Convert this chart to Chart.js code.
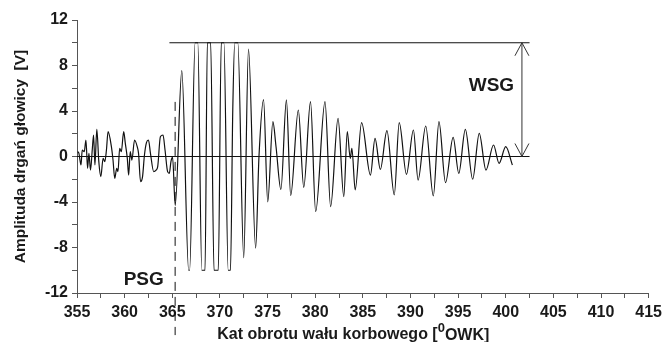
<!DOCTYPE html>
<html>
<head>
<meta charset="utf-8">
<script src="https://cdn.jsdelivr.net/npm/chart.js@4.4.1/dist/chart.umd.min.js"></script>
<style>
  html, body { margin: 0; padding: 0; background: #fff; }
  #wrap { width: 667px; height: 342px; }
</style>
</head>
<body>
<div id="wrap"><canvas id="chart" width="667" height="342"></canvas></div>
<script>
// axis ranges
const xMin = 355, xMax = 415, xStep = 2.5, xLabelEvery = 5;
const yMin = -12, yMax = 12, yStep = 2, yLabelEvery = 4;

// signal before ignition (noise), crank angle [deg] / amplitude [V]
const angleBefore = [355.07, 355.2, 355.42, 355.55, 355.76, 355.94, 356.11, 356.25, 356.42, 356.6,
  356.74, 356.88, 357.08, 357.29, 357.5, 357.74, 357.92, 358.09, 358.26, 358.61,
  358.78, 358.96, 359.17, 359.3, 359.48, 359.65, 359.9, 360.07, 360.28, 360.42,
  360.59, 360.76, 361.04, 361.32, 361.46, 361.67, 361.88, 362.08, 362.29, 362.5,
  362.71, 363.05, 363.3, 363.47, 363.75, 364.03, 364.24, 364.51, 364.69, 364.86, 365.03];
const ampBefore = [0.42, 0.28, -0.74, 0.57, 0.42, 1.45, -1.04, 0.28, -1.19, 0.57,
  1.89, -0.74, 2.39, -0.45, -1.77, -0.16, -0.45, 0.57, 2.18, 0.87,
  -0.31, -1.92, -1.04, -1.33, 0.72, 0.42, 2.18, 1.16, -0.16, -1.63,
  0.42, -0.31, 1.45, 0.87, 0.28, -2.21, -1.77, 0.13, 1.22, 1.45,
  0.28, -1.33, -1.19, -0.89, 1.74, 1.89, 0.57, -1.33, -1.48, -0.45, -0.05];

// signal after ignition (knock oscillations, clipped at +/-10 V)
const angleAfter = [365.31, 366.0, 366.72, 366.82, 367.4, 367.68, 368.1, 368.44, 368.68, 369.03,
  369.38, 369.83, 370.14, 370.42, 370.87, 371.11, 371.35, 371.56, 371.88, 372.5,
  373.0, 373.75, 374.1, 374.58, 375.02, 375.56, 375.89, 376.4, 376.98, 377.43,
  378.23, 378.8, 379.51, 380.05, 381.03, 381.62, 382.4, 383.0, 383.37, 383.68,
  383.85, 384.2, 384.87, 385.8, 386.28, 386.84, 387.53, 388.3, 388.82, 389.58,
  390.31, 390.8, 391.6, 392.4, 392.99, 393.68, 394.48, 395.07, 395.76, 396.53,
  397.22, 397.92, 398.72, 399.3, 400.0, 400.7];
const ampAfter = [-4.3, 7.55, -10, -10, 10, 10, -10, -10, 10, 10,
  -10, -10, 10, 10, -10, -10, 4.1, 10, 10, -8.9,
  9.45, -8.05, 0, 5.0, -4.0, 3.06, 0.86, -2.9, 4.97, -3.44,
  4.09, -2.71, 4.82, -4.85, 4.82, -4.41, 3.35, -3.53, 2.18, -0.16,
  0.72, -2.94, 2.97, -1.63, 1.6, -1.13, 2.27, -3.38, 2.97, -1.57,
  2.33, -2.07, 2.68, -3.47, 3.06, -2.3, 1.69, -1.48, 2.39, -2.0,
  2.04, -1.19, 1.01, -0.6, 0.86, -0.75];

// annotation values (data units)
const clipLevel = 10;
const refLineStart = 364.7, refLineEnd = 402.5;
const psgAngle = 365.3, psgTop = 4.8, psgBottom = -15.7;
const wsgAngle = 401.7;
const wsgLabel = { text: 'WSG', x: 398.5, y: 6.2 };
const psgLabel = { text: 'PSG', x: 362.0, y: -10.85 };

const angles = angleBefore.concat(angleAfter);
const amps = ampBefore.concat(ampAfter);
const points = angles.map((a, i) => ({ x: a, y: amps[i] }));

const FONT = '"Liberation Sans", Arial, sans-serif';

const annotate = {
  id: 'annotate',
  afterDatasetsDraw(chart) {
    const { ctx, scales: { x, y } } = chart;
    const px = v => x.getPixelForValue(v);
    const py = v => y.getPixelForValue(v);
    ctx.save();
    ctx.lineWidth = 1;
    ctx.strokeStyle = '#111';

    // zero line and clip level line
    ctx.beginPath();
    ctx.moveTo(px(xMin), py(0));
    ctx.lineTo(px(refLineEnd), py(0));
    ctx.moveTo(px(refLineStart), py(clipLevel));
    ctx.lineTo(px(refLineEnd), py(clipLevel));
    ctx.stroke();

    // PSG dashed marker
    ctx.setLineDash([9, 6]);
    ctx.beginPath();
    ctx.moveTo(px(psgAngle), py(psgTop));
    ctx.lineTo(px(psgAngle), py(psgBottom));
    ctx.stroke();
    ctx.setLineDash([]);

    // WSG double arrow
    const ax = px(wsgAngle), aTop = py(clipLevel), aBot = py(0);
    ctx.strokeStyle = '#333';
    ctx.beginPath();
    ctx.moveTo(ax, aTop);
    ctx.lineTo(ax, aBot);
    ctx.moveTo(ax - 7, aTop + 13);
    ctx.lineTo(ax, aTop);
    ctx.lineTo(ax + 7, aTop + 13);
    ctx.moveTo(ax - 7, aBot - 13);
    ctx.lineTo(ax, aBot);
    ctx.lineTo(ax + 7, aBot - 13);
    ctx.stroke();

    // labels
    ctx.fillStyle = '#1a1a1a';
    ctx.font = 'bold 19px ' + FONT;
    ctx.textAlign = 'center';
    ctx.textBaseline = 'middle';
    [wsgLabel, psgLabel].forEach(l => ctx.fillText(l.text, px(l.x), py(l.y)));
    ctx.restore();
  },
  afterDraw(chart) {
    // x axis title with superscript zero
    const { ctx, scales: { x } } = chart;
    const main = 'Kat obrotu wału korbowego [';
    const sup = '0';
    const tail = 'OWK]';
    ctx.save();
    ctx.fillStyle = '#1a1a1a';
    ctx.textBaseline = 'alphabetic';
    ctx.textAlign = 'left';
    ctx.font = 'bold 16px ' + FONT;
    const w1 = ctx.measureText(main).width;
    const w3 = ctx.measureText(tail).width;
    ctx.font = 'bold 13px ' + FONT;
    const w2 = ctx.measureText(sup).width;
    const total = w1 + w2 + w3;
    const left = x.getPixelForValue(384) - total / 2;
    const base = 339;
    ctx.font = 'bold 16px ' + FONT;
    ctx.fillText(main, left, base);
    ctx.font = 'bold 13px ' + FONT;
    ctx.fillText(sup, left + w1, base - 7);
    ctx.font = 'bold 16px ' + FONT;
    ctx.fillText(tail, left + w1 + w2, base + 1);
    ctx.restore();
  }
};

new Chart(document.getElementById('chart'), {
  type: 'line',
  data: {
    datasets: [{
      label: 'Amplituda',
      data: points,
      borderColor: '#111',
      borderWidth: 1.2,
      pointRadius: 0,
      fill: false,
      cubicInterpolationMode: 'monotone'
    }]
  },
  options: {
    responsive: false,
    animation: false,
    events: [],
    layout: { padding: { left: 0, right: 14, top: 20, bottom: 0 } },
    plugins: {
      legend: { display: false },
      tooltip: { enabled: false }
    },
    scales: {
      x: {
        type: 'linear',
        min: xMin,
        max: xMax,
        afterFit(scale) { scale.height = 49; },
        grid: { drawOnChartArea: false, drawTicks: true, tickLength: 5, color: '#555' },
        border: { display: true, color: '#555', width: 1 },
        ticks: {
          stepSize: xStep,
          autoSkip: false,
          maxRotation: 0,
          padding: 5,
          color: '#1a1a1a',
          font: { family: FONT, size: 16, weight: 'bold' },
          callback: v => (v % xLabelEvery === 0 ? String(v) : '')
        }
      },
      y: {
        type: 'linear',
        min: yMin,
        max: yMax,
        afterFit(scale) { scale.width = 77; },
        grid: { drawOnChartArea: false, drawTicks: true, tickLength: 5, color: '#555' },
        border: { display: true, color: '#555', width: 1 },
        title: {
          display: true,
          text: 'Amplituda drgań głowicy  [V]',
          color: '#1a1a1a',
          font: { family: FONT, size: 15.5, weight: 'bold' },
          padding: { top: 11, bottom: 0 }
        },
        ticks: {
          stepSize: yStep,
          autoSkip: false,
          padding: 4,
          color: '#1a1a1a',
          font: { family: FONT, size: 16, weight: 'bold' },
          callback: v => (v % yLabelEvery === 0 ? String(v) : '')
        }
      }
    }
  },
  plugins: [annotate]
});
</script>
</body>
</html>
